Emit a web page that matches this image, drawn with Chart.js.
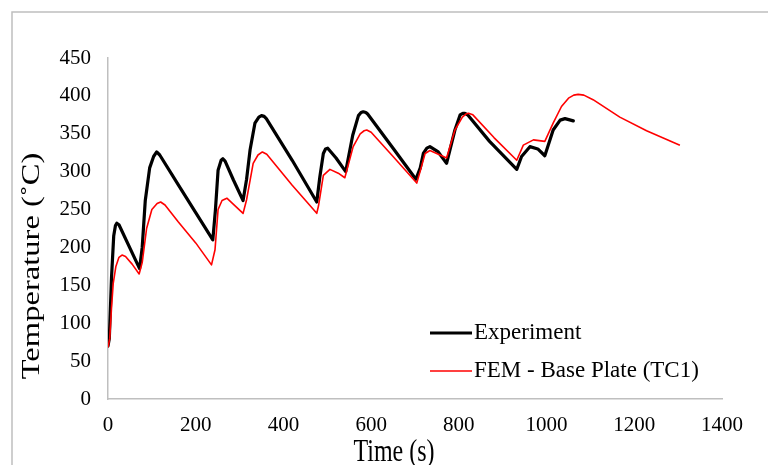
<!DOCTYPE html>
<html>
<head>
<meta charset="utf-8">
<script src="https://cdn.jsdelivr.net/npm/chart.js@4"></script>
<style>
    html, body { margin: 0; padding: 0; background: #fff; }
    #wrap { position: relative; width: 768px; height: 465px; }
</style>
</head>
<body>
<div id="wrap"><canvas id="tempChart" width="768" height="465"></canvas></div>
<script>
// values: time (s) and temperature (°C)
const expTime = [0, 3, 8, 13, 17, 20, 25, 72, 78, 85, 95, 104, 111, 118, 160, 200, 239, 245, 251, 258, 262, 267, 286, 308, 316, 324, 335, 344, 350, 356, 361, 420, 476, 483, 491, 496, 501, 520, 542, 558, 571, 577, 582, 588, 592, 650, 702, 712, 719, 727, 734, 753, 772, 791, 803, 809, 814, 820, 870, 932, 943, 962, 980, 996, 1015, 1031, 1042, 1061];
const expTemp = [70, 80, 160, 215, 229, 232, 230, 172, 200, 262, 305, 320, 326, 322, 283, 246, 210, 250, 302, 315, 317, 314, 289, 262, 290, 329, 364, 372, 374, 373, 370, 315, 260, 293, 324, 330, 331, 318, 300, 348, 374, 378, 379, 378, 376, 331, 290, 305, 324, 331, 333, 326, 311, 355, 375, 377, 377, 375, 340, 303, 320, 333, 330, 321, 355, 368, 370, 367];

const femTime = [0, 4, 8, 12, 18, 25, 32, 40, 55, 71, 78, 88, 100, 112, 120, 130, 160, 200, 236, 244, 251, 260, 271, 308, 316, 331, 342, 352, 362, 420, 476, 480, 491, 506, 525, 540, 559, 575, 584, 590, 600, 650, 704, 714, 723, 734, 761, 772, 791, 808, 816, 822, 832, 880, 932, 947, 970, 996, 1015, 1034, 1050, 1062, 1072, 1085, 1106, 1167, 1228, 1304];
const femTemp = [68, 80, 120, 153, 175, 187, 190, 188, 178, 165, 180, 225, 250, 258, 260, 256, 234, 206, 177, 197, 250, 262, 265, 245, 263, 311, 322, 326, 323, 282, 245, 255, 295, 303, 298, 292, 333, 350, 354, 355, 352, 320, 285, 305, 324, 328, 321, 318, 355, 372, 376, 377, 375, 345, 315, 335, 342, 340, 364, 386, 397, 401, 402, 401, 395, 372, 354, 335];

const xTicks = [0, 200, 400, 600, 800, 1000, 1200, 1400];
const yTicks = [0, 50, 100, 150, 200, 250, 300, 350, 400, 450];

const seriesLabels = ['Experiment', 'FEM - Base Plate (TC1)'];
const xTitle = 'Time (s)';
const yTitle = 'Temperature (˚C)';

const serif = "'Liberation Serif', 'Times New Roman', serif";
const axisGray = '#bfbfbf';

function toPoints(xs, ys) {
    return xs.map((x, i) => ({ x: x, y: ys[i] }));
}

// frame, axis titles and legend drawn by hand to sit where the original has them
const decorations = {
    id: 'decorations',
    beforeDraw(chart) {
        const ctx = chart.ctx;
        ctx.save();
        ctx.strokeStyle = axisGray;
        ctx.lineWidth = 1.5;
        ctx.beginPath();
        ctx.moveTo(12, 465);
        ctx.lineTo(12, 12);
        ctx.lineTo(768, 12);
        ctx.stroke();
        ctx.restore();
    },
    afterDraw(chart) {
        const ctx = chart.ctx;
        ctx.save();
        ctx.fillStyle = '#000';
        ctx.textAlign = 'center';
        ctx.textBaseline = 'alphabetic';

        // x title
        ctx.save();
        ctx.font = '24px ' + serif;
        ctx.translate(394, 461);
        ctx.scale(1, 1.3);
        ctx.fillText(xTitle, 0, 0);
        ctx.restore();

        // y title
        ctx.save();
        ctx.font = '24.5px ' + serif;
        ctx.translate(38.5, 266);
        ctx.rotate(-Math.PI / 2);
        ctx.scale(1.33, 1);
        ctx.fillText(yTitle, 0, 0);
        ctx.restore();

        // legend
        const rows = [333, 371];
        ctx.font = '23px ' + serif;
        ctx.textAlign = 'left';
        ctx.textBaseline = 'middle';
        chart.data.datasets.forEach((ds, i) => {
            const y = rows[i];
            ctx.strokeStyle = ds.borderColor;
            ctx.lineWidth = ds.borderWidth;
            ctx.beginPath();
            ctx.moveTo(430, y);
            ctx.lineTo(472, y);
            ctx.stroke();
            ctx.fillText(ds.label, 474, y);
        });
        ctx.restore();
    }
};

const ctx = document.getElementById('tempChart').getContext('2d');
const tempChart = new Chart(ctx, {
    type: 'line',
    data: {
        datasets: [{
            label: seriesLabels[0],
            data: toPoints(expTime, expTemp),
            borderColor: '#000000',
            borderWidth: 3.2,
            pointRadius: 0,
            tension: 0,
            borderJoinStyle: 'round',
            borderCapStyle: 'round',
            order: 2
        }, {
            label: seriesLabels[1],
            data: toPoints(femTime, femTemp),
            borderColor: '#ff0000',
            borderWidth: 1.6,
            pointRadius: 0,
            tension: 0,
            borderJoinStyle: 'round',
            order: 1
        }]
    },
    options: {
        responsive: false,
        animation: false,
        layout: { padding: { left: 0, top: 58, right: 46, bottom: 0 } },
        plugins: {
            legend: { display: false },
            tooltip: { enabled: false }
        },
        scales: {
            x: {
                type: 'linear',
                min: 0,
                max: 1400,
                grid: { display: false, drawTicks: false },
                border: { display: true, color: axisGray, width: 1.5 },
                afterBuildTicks: (s) => { s.ticks = xTicks.map(v => ({ value: v })); },
                afterFit: (s) => { s.height = 66; },
                ticks: {
                    color: '#000',
                    padding: 14,
                    maxRotation: 0,
                    font: { family: serif, size: 21 },
                    callback: (v) => String(v)
                }
            },
            y: {
                min: 0,
                max: 450,
                grid: { display: false, drawTicks: false },
                border: { display: true, color: axisGray, width: 1.5 },
                afterBuildTicks: (s) => { s.ticks = yTicks.map(v => ({ value: v })); },
                afterFit: (s) => { s.width = 108; },
                ticks: {
                    color: '#000',
                    padding: 17,
                    font: { family: serif, size: 21 },
                    callback: (v) => String(v)
                }
            }
        }
    },
    plugins: [decorations]
});
</script>
</body>
</html>
